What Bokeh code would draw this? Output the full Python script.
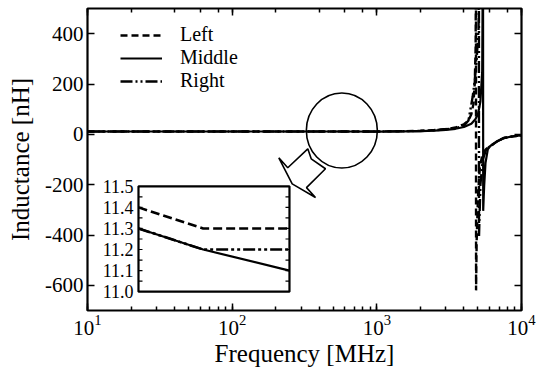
from bokeh.plotting import figure
from bokeh.models import (LogAxis, LinearAxis, Range1d, LinearScale, Legend, LegendItem,
                          FixedTicker, LogTicker)
from bokeh.core.properties import value
from bokeh.embed import file_html
from bokeh.resources import INLINE

FONT = "Liberation Serif"

# ---------------- main data (frequency in MHz, inductance in nH) ----------------
freq_left = [10, 30, 100, 300, 600, 1000, 1500, 2000, 2500, 3000, 3500, 4000, 4300,
             4500, 4650, 4750, 4820, 4845, 4852, 4900, 5000, 5150, 5400, 5700, 6067,
             6776, 7549, 8500, 9398, 10000]
L_left = [11.4, 11.4, 11.35, 11.4, 11.3, 11.3, 12.5, 14, 17, 21, 27, 40, 55,
          80, 120, 200, 350, 800, -620, -420, -250, -130, -75, -58, -47,
          -28, -14.5, -9, -5.5, -5]

freq_mid = [10, 30, 100, 300, 600, 1000, 1500, 2000, 2500, 3000, 3500, 4000, 4500,
            4800, 5000, 5200, 5350, 5420, 5435, 5480, 5520, 5640, 5850, 6067, 6776,
            7549, 8500, 9398, 10000]
L_mid = [11.3, 11.3, 11.3, 11.3, 11.2, 11.1, 11.8, 13, 15, 18, 22, 29, 42,
         60, 80, 130, 250, 800, -304, -250, -205, -113, -60, -47, -28,
         -14.5, -9, -5.5, -5]

freq_right = [10, 30, 100, 300, 600, 1000, 1500, 2000, 2500, 3000, 3500, 4000, 4300,
              4440, 4600, 4740, 4900, 5050, 5075, 5085, 5200, 5400, 5700, 6067, 6776,
              7549, 8500, 9398, 10000]
L_right = [11.3, 11.3, 11.3, 11.3, 11.2, 11.2, 12.2, 13.5, 16, 20, 25, 34, 55,
           100, 150, 210, 300, 420, 800, -404, -200, -100, -60, -47, -28,
           -14.5, -9, -5.5, -5]

y_ticks = [-600, -400, -200, 0, 200, 400]
y_tick_labels = ["-600", "-400", "-200", "0", "200", "400"]

# ---------------- inset data ----------------
inset_freq = [300, 600, 1000]
inset_left = [11.4, 11.3, 11.3]
inset_mid = [11.3, 11.2, 11.1]
inset_right = [11.3, 11.2, 11.2]
inset_tick_labels = ["11.5", "11.4", "11.3", "11.2", "11.1", "11.0"]
inset_tick_values = [11.5, 11.4, 11.3, 11.2, 11.1, 11.0]
inset_minor = [11.05, 11.1, 11.15, 11.2, 11.25, 11.3, 11.35, 11.4, 11.45]

# annotation: circle and hollow arrow (data coordinates)
circle_f, circle_L = 573, 15
arrow_f = [333.3, 242.3, 210.1, 260.0, 376.8, 326.4, 441.7, 351.9]
arrow_L = [-57.7, -132.7, -93.3, -197.0, -251.2, -211.7, -136.7, -97.2]

p = figure(width=541, height=369, x_axis_type="log",
           x_range=Range1d(10, 1e4), y_range=Range1d(-700, 500),
           output_backend="svg", toolbar_location=None,
           min_border_left=87, min_border_right=20, min_border_top=8, min_border_bottom=57)
p.grid.visible = False
p.outline_line_color = "black"
p.outline_line_width = 2.2
p.background_fill_color = "white"
p.border_fill_color = "white"

def style(ax, minor=True, labels=True):
    ax.axis_line_color = None
    ax.major_tick_in = 7
    ax.major_tick_out = 0
    ax.minor_tick_in = 4
    ax.minor_tick_out = 0
    ax.major_tick_line_width = 1.5
    ax.minor_tick_line_width = 1.5
    ax.major_tick_line_color = "black"
    ax.minor_tick_line_color = "black" if minor else None
    ax.major_label_text_font = FONT
    ax.major_label_text_color = "black"
    if labels:
        ax.major_label_text_font_size = "21px"
        ax.major_label_standoff = 4
    else:
        ax.major_label_text_font_size = "1px"
        ax.major_label_text_alpha = 0
        ax.major_label_standoff = 0
    ax.axis_label_text_font = FONT
    ax.axis_label_text_font_style = "normal"
    ax.axis_label_text_font_size = "25px"
    ax.axis_label_text_color = "black"

xa = p.xaxis[0]
style(xa)
xa.axis_label = "Frequency [MHz]"
xa.axis_label_standoff = 2
ya = p.yaxis[0]
ya.ticker = FixedTicker(ticks=y_ticks)
style(ya, minor=False)
ya.major_label_overrides = dict(zip(y_ticks, y_tick_labels))
ya.axis_label = "Inductance [nH]"
ya.axis_label_standoff = 8

top = LogAxis(ticker=LogTicker())
style(top, labels=False)
p.add_layout(top, "above")
right = LinearAxis(ticker=FixedTicker(ticks=y_ticks))
style(right, minor=False, labels=False)
p.add_layout(right, "right")

# main curves
r_left = p.line(freq_left, L_left, line_color="black", line_width=2.4, line_dash="7 4")
r_mid = p.line(freq_mid, L_mid, line_color="black", line_width=2.2)
r_right = p.line(freq_right, L_right, line_color="black", line_width=2.4,
                 line_dash="12 3 2 3 2 3")

# circle + arrow
p.ellipse(x=[circle_f], y=[circle_L], width=71, height=75, width_units="screen",
          height_units="screen", fill_alpha=0, line_color="black", line_width=1.6)
p.patch(arrow_f, arrow_L, fill_alpha=0, line_color="black", line_width=1.6)

# inset via extra ranges
p.extra_x_ranges = {"ix": Range1d(63.6, 2075.7)}
p.extra_y_ranges = {"iy": Range1d(10.9104, 12.3443)}
p.extra_x_scales = {"ix": LinearScale()}
p.extra_y_scales = {"iy": LinearScale()}
kw = dict(x_range_name="ix", y_range_name="iy")

p.quad(left=[inset_freq[0]], right=[inset_freq[-1]], bottom=[inset_tick_values[-1]],
       top=[inset_tick_values[0]], fill_color="white", line_color="black", line_width=2.2, **kw)
tick_len = 18.5
p.segment(x0=[inset_freq[0]] * len(inset_minor), x1=[inset_freq[0] + tick_len] * len(inset_minor),
          y0=inset_minor, y1=inset_minor, line_color="black", line_width=1.2, **kw)
p.segment(x0=[inset_freq[-1] - tick_len] * len(inset_minor), x1=[inset_freq[-1]] * len(inset_minor),
          y0=inset_minor, y1=inset_minor, line_color="black", line_width=1.2, **kw)
p.text(x=[inset_freq[0] - 23] * len(inset_tick_values), y=inset_tick_values, text=inset_tick_labels,
       text_align="right", text_baseline="middle", text_font=value(FONT),
       text_font_size="18px", text_color="black", **kw)
p.line(inset_freq, inset_right, line_color="black", line_width=2.6, line_dash="12 3 3 3 3 3", **kw)
p.line(inset_freq, inset_mid, line_color="black", line_width=2.2, **kw)
p.line(inset_freq, inset_left, line_color="black", line_width=2.6, line_dash="9 4", **kw)

legend = Legend(items=[LegendItem(label="Left", renderers=[r_left]),
                       LegendItem(label="Middle", renderers=[r_mid]),
                       LegendItem(label="Right", renderers=[r_right])],
                location=(33, 218))
legend.padding = 0
legend.margin = 0
legend.spacing = 0
legend.glyph_width = 42
legend.glyph_height = 22
legend.label_height = 22
legend.label_standoff = 18
legend.label_text_font = FONT
legend.label_text_font_size = "20px"
legend.label_text_color = "black"
legend.background_fill_alpha = 0
legend.border_line_alpha = 0
p.add_layout(legend)

open("out.html", "w").write(file_html(p, INLINE))
